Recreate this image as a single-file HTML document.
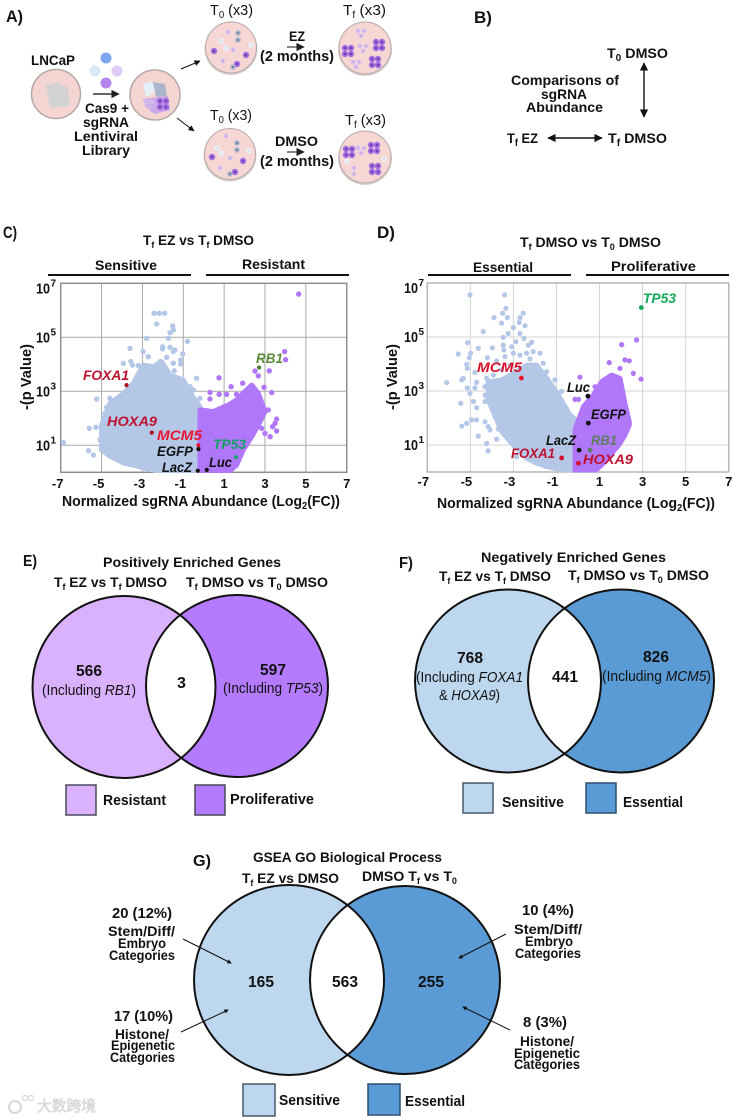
<!DOCTYPE html>
<html lang="en">
<head>
<meta charset="utf-8">
<title>CRISPR screen volcano plots and Venn diagrams</title>
<style>
html,body{margin:0;padding:0;background:#fff;}
svg{display:block;}
text{font-family:"Liberation Sans",Arial,sans-serif;font-weight:bold;fill:#111;}
.i{font-style:italic;}
</style>
</head>
<body>
<svg id="figure" xmlns="http://www.w3.org/2000/svg" width="733" height="1119" viewBox="0 0 733 1119">
<defs>
<marker id="ah" markerWidth="7" markerHeight="7" refX="5.5" refY="3" orient="auto-start-reverse"><path d="M0,0 L6,3 L0,6 Z" fill="#111"/></marker>
<marker id="ahg" markerWidth="7" markerHeight="7" refX="4" refY="3" orient="auto"><path d="M0,0 L6,3 L0,6 Z" fill="#222"/></marker>
<marker id="ahb" markerWidth="5" markerHeight="5" refX="3.6" refY="2.2" orient="auto"><path d="M0,0 L4.4,2.2 L0,4.4 Z" fill="#111"/></marker>
<g id="purple-cell"><circle r="3.2" fill="#a56ee0"/><circle r="1.2" fill="#6a3aa8"/></g>
<g id="slate-cell"><circle r="2.8" fill="#a9b6cc"/><circle r="1.1" fill="#6f7f98"/></g>
<g id="pale-cell"><circle r="2.8" fill="#eaf0f8"/><circle r="1" fill="#cfdcec"/></g>
<g id="lilac-cell"><circle r="2.5" fill="#d9c3ee"/><circle r=".9" fill="#b59ad6"/></g>
<g id="purple-cluster"><use href="#purple-cell" x="-3" y="-3"/><use href="#purple-cell" x="3" y="-3"/><use href="#purple-cell" x="-3" y="3"/><use href="#purple-cell" x="3" y="3"/></g>
<g id="lilac-cluster"><use href="#lilac-cell" x="-3" y="-2"/><use href="#lilac-cell" x="3" y="-2"/><use href="#lilac-cell" x="0" y="3"/></g>
<clipPath id="clip-e"><ellipse cx="237" cy="686" rx="91" ry="91"/></clipPath>
<clipPath id="clip-f"><ellipse cx="621" cy="681" rx="93" ry="91.5"/></clipPath>
<clipPath id="clip-g"><ellipse cx="405" cy="980" rx="95" ry="94"/></clipPath>
<clipPath id="clip-c"><rect x="60.7" y="283" width="286" height="190"/></clipPath>
<clipPath id="clip-d"><rect x="427.3" y="283" width="301.4" height="189.5"/></clipPath>
</defs>

<!-- Panel A -->
<g>
<text x="6" y="22" font-size="17" textLength="17" lengthAdjust="spacingAndGlyphs">A)</text>
<g>
<circle cx="56" cy="94" r="24.5" fill="#f5d5d2" stroke="#b5a9a8" stroke-width="1.5"/>
<path d="M46,85 L58,82 L68,88 L70,106 L50,108 Z" fill="#d3d3d3"/>
</g>
<text x="31" y="65" font-size="14" textLength="44" lengthAdjust="spacingAndGlyphs">LNCaP</text>
<g>
<circle cx="106" cy="58" r="5.5" fill="#7ba6ee"/>
<circle cx="95" cy="71" r="5.5" fill="#d8e9f8"/>
<circle cx="117" cy="71" r="5.5" fill="#e0ccf4"/>
<circle cx="106" cy="83" r="5.5" fill="#b184ee"/>
</g>
<line x1="93" y1="94" x2="117" y2="94" stroke="#333" stroke-width="1.4" marker-end="url(#ahg)"/>
<text x="85" y="113" font-size="14" textLength="44" lengthAdjust="spacingAndGlyphs">Cas9 +</text>
<text x="83" y="127" font-size="14" textLength="46" lengthAdjust="spacingAndGlyphs">sgRNA</text>
<text x="74" y="141" font-size="14" textLength="64" lengthAdjust="spacingAndGlyphs">Lentiviral</text>
<text x="82" y="155" font-size="14" textLength="48" lengthAdjust="spacingAndGlyphs">Library</text>
<g>
<circle cx="155" cy="95" r="25" fill="#f5d5d2" stroke="#b5a9a8" stroke-width="1.5"/>
<path d="M143,84 L152,81 L156,92 L146,97 Z" fill="#e6eef8"/>
<path d="M153,82 L165,84 L167,96 L156,97 Z" fill="#a9b6cc"/>
<path d="M143,99 L168,96 L170,110 L155,114 L146,108 Z" fill="#c9a8ea"/>
<use href="#purple-cluster" x="163" y="104"/>
<use href="#lilac-cluster" x="149" y="104"/>
</g>
<line x1="181" y1="69" x2="200" y2="61" stroke="#111" stroke-width="1" marker-end="url(#ah)"/>
<line x1="177" y1="118" x2="194" y2="131" stroke="#111" stroke-width="1" marker-end="url(#ah)"/>

<text x="210" y="15" font-size="15" textLength="43" lengthAdjust="spacingAndGlyphs" style="font-weight:normal">T<tspan font-size="10" dy="3">0</tspan><tspan dy="-3"> (x3)</tspan></text>
<g>
<ellipse cx="231" cy="49" rx="26.5" ry="26" fill="#d8d0cf"/>
<circle cx="231" cy="47.5" r="25.5" fill="#f6d7d4" stroke="#b5a9a8" stroke-width="1"/>
<use href="#lilac-cell" x="228" y="32"/><use href="#slate-cell" x="238" y="33"/><use href="#slate-cell" x="238" y="40"/>
<use href="#pale-cell" x="221" y="41"/><use href="#pale-cell" x="226" y="48"/><use href="#lilac-cell" x="233" y="50"/>
<use href="#pale-cell" x="251" y="45"/><use href="#purple-cell" x="214" y="51"/><use href="#purple-cell" x="246" y="55"/>
<use href="#lilac-cell" x="223" y="61"/><use href="#purple-cell" x="237" y="64"/><use href="#slate-cell" x="233" y="67"/>
</g>
<text x="343" y="15" font-size="15" textLength="43" lengthAdjust="spacingAndGlyphs" style="font-weight:normal">T<tspan font-size="10" dy="3">f</tspan><tspan dy="-3">  (x3)</tspan></text>
<g>
<ellipse cx="365" cy="49.5" rx="27" ry="26.5" fill="#d8d0cf"/>
<circle cx="365" cy="48" r="26" fill="#f6d7d4" stroke="#b5a9a8" stroke-width="1"/>
<use href="#lilac-cluster" x="361" y="33"/><use href="#lilac-cluster" x="363" y="48"/><use href="#lilac-cluster" x="356" y="64"/>
<use href="#purple-cluster" x="379" y="45"/><use href="#purple-cluster" x="348" y="51"/><use href="#purple-cluster" x="375" y="62"/>
</g>
<text x="289" y="41" font-size="14" textLength="16" lengthAdjust="spacingAndGlyphs">EZ</text>
<line x1="287" y1="47" x2="302" y2="47" stroke="#555" stroke-width="1.4" marker-end="url(#ahg)"/>
<text x="260" y="61" font-size="15" textLength="74" lengthAdjust="spacingAndGlyphs">(2 months)</text>

<text x="210" y="120" font-size="15" textLength="42" lengthAdjust="spacingAndGlyphs" style="font-weight:normal">T<tspan font-size="10" dy="3">0</tspan><tspan dy="-3"> (x3)</tspan></text>
<g>
<ellipse cx="230" cy="155.5" rx="26.5" ry="26" fill="#d8d0cf"/>
<circle cx="230" cy="154" r="25.5" fill="#f6d7d4" stroke="#b5a9a8" stroke-width="1"/>
<use href="#lilac-cell" x="226" y="136"/><use href="#slate-cell" x="237" y="143"/><use href="#slate-cell" x="237" y="150"/>
<use href="#pale-cell" x="217" y="148"/><use href="#pale-cell" x="221" y="153"/><use href="#lilac-cell" x="230" y="158"/>
<use href="#pale-cell" x="249" y="151"/><use href="#purple-cell" x="212" y="157"/><use href="#purple-cell" x="243" y="161"/>
<use href="#lilac-cell" x="220" y="168"/><use href="#purple-cell" x="235" y="172"/><use href="#slate-cell" x="230" y="174"/>
</g>
<text x="345" y="125" font-size="15" textLength="41" lengthAdjust="spacingAndGlyphs" style="font-weight:normal">T<tspan font-size="10" dy="3">f</tspan><tspan dy="-3"> (x3)</tspan></text>
<g>
<ellipse cx="365" cy="158.5" rx="27" ry="26.5" fill="#d8d0cf"/>
<circle cx="365" cy="157" r="26" fill="#f6d7d4" stroke="#b5a9a8" stroke-width="1"/>
<use href="#purple-cluster" x="349" y="152"/><use href="#lilac-cluster" x="361" y="150"/><use href="#purple-cluster" x="374" y="148"/>
<use href="#pale-cell" x="347" y="161"/><use href="#pale-cell" x="384" y="159"/><use href="#lilac-cell" x="354" y="168"/><use href="#lilac-cell" x="354" y="174"/>
<use href="#purple-cluster" x="375" y="169"/>
</g>
<text x="275" y="146" font-size="14" textLength="43" lengthAdjust="spacingAndGlyphs">DMSO</text>
<line x1="287" y1="152" x2="302" y2="152" stroke="#555" stroke-width="1.4" marker-end="url(#ahg)"/>
<text x="260" y="166" font-size="15" textLength="74" lengthAdjust="spacingAndGlyphs">(2 months)</text>
</g>

<!-- Panel B -->
<g>
<text x="474" y="23" font-size="17" textLength="18" lengthAdjust="spacingAndGlyphs">B)</text>
<text x="607" y="58" font-size="14" textLength="61" lengthAdjust="spacingAndGlyphs">T<tspan font-size="10" dy="3">0</tspan><tspan dy="-3"> DMSO</tspan></text>
<line x1="644" y1="63" x2="644" y2="117" stroke="#111" stroke-width="1.4" marker-start="url(#ah)" marker-end="url(#ah)"/>
<text x="511" y="85" font-size="14" textLength="108" lengthAdjust="spacingAndGlyphs">Comparisons of</text>
<text x="541" y="99" font-size="14" textLength="46" lengthAdjust="spacingAndGlyphs">sgRNA</text>
<text x="526" y="112" font-size="14" textLength="77" lengthAdjust="spacingAndGlyphs">Abundance</text>
<text x="507" y="143" font-size="14" textLength="31" lengthAdjust="spacingAndGlyphs">T<tspan font-size="10" dy="3">f</tspan><tspan dy="-3"> EZ</tspan></text>
<line x1="548" y1="138" x2="602" y2="138" stroke="#111" stroke-width="1.4" marker-start="url(#ah)" marker-end="url(#ah)"/>
<text x="608" y="143" font-size="14" textLength="59" lengthAdjust="spacingAndGlyphs">T<tspan font-size="10" dy="3">f</tspan><tspan dy="-3"> DMSO</tspan></text>
</g>

<!-- Panel C static text -->
<g>
<text x="3" y="238" font-size="17" textLength="14" lengthAdjust="spacingAndGlyphs">C)</text>
<text x="143" y="245" font-size="14" textLength="111" lengthAdjust="spacingAndGlyphs">T<tspan font-size="9" dy="3">f</tspan><tspan dy="-3"> EZ vs T</tspan><tspan font-size="9" dy="3">f</tspan><tspan dy="-3"> DMSO</tspan></text>
<text x="95" y="270" font-size="14" textLength="62" lengthAdjust="spacingAndGlyphs">Sensitive</text>
<text x="242" y="269" font-size="14" textLength="63" lengthAdjust="spacingAndGlyphs">Resistant</text>
<rect x="48" y="274" width="143" height="2" fill="#111"/>
<rect x="206" y="274" width="143" height="2" fill="#111"/>
<text transform="translate(31,410) rotate(-90)" font-size="15" textLength="66" lengthAdjust="spacingAndGlyphs">-(p Value)</text>
<text x="62" y="506" font-size="15" textLength="278" lengthAdjust="spacingAndGlyphs">Normalized sgRNA Abundance (Log<tspan font-size="10" dy="3">2</tspan><tspan dy="-3">(FC))</tspan></text>
</g>

<!-- Panel D static text -->
<g>
<text x="377" y="238" font-size="17" textLength="18" lengthAdjust="spacingAndGlyphs">D)</text>
<text x="520" y="247" font-size="14" textLength="141" lengthAdjust="spacingAndGlyphs">T<tspan font-size="9" dy="3">f</tspan><tspan dy="-3"> DMSO vs T</tspan><tspan font-size="9" dy="3">0</tspan><tspan dy="-3"> DMSO</tspan></text>
<text x="473" y="272" font-size="14" textLength="60" lengthAdjust="spacingAndGlyphs">Essential</text>
<text x="611" y="271" font-size="14" textLength="85" lengthAdjust="spacingAndGlyphs">Proliferative</text>
<rect x="428" y="274" width="143" height="2" fill="#111"/>
<rect x="586" y="274" width="143" height="2" fill="#111"/>
<text transform="translate(397,410) rotate(-90)" font-size="15" textLength="66" lengthAdjust="spacingAndGlyphs">-(p Value)</text>
<text x="437" y="508" font-size="15" textLength="278" lengthAdjust="spacingAndGlyphs">Normalized sgRNA Abundance (Log<tspan font-size="10" dy="3">2</tspan><tspan dy="-3">(FC))</tspan></text>
</g>

<g id="chart-c"></g>
<g id="chart-d"></g>

<!-- gene labels C -->
<g font-size="14">
<text class="i" x="83" y="380" font-size="14" textLength="46" lengthAdjust="spacingAndGlyphs" style="fill:#bf1130">FOXA1</text>
<text class="i" x="107" y="426" font-size="14" textLength="50" lengthAdjust="spacingAndGlyphs" style="fill:#bf1130">HOXA9</text>
<text class="i" x="157" y="440" font-size="14" textLength="45" lengthAdjust="spacingAndGlyphs" style="fill:#ea1530">MCM5</text>
<text class="i" x="157" y="456" font-size="14" textLength="36" lengthAdjust="spacingAndGlyphs">EGFP</text>
<text class="i" x="162" y="472" font-size="14" textLength="30" lengthAdjust="spacingAndGlyphs">LacZ</text>
<text class="i" x="209" y="467" font-size="14" textLength="23" lengthAdjust="spacingAndGlyphs">Luc</text>
<text class="i" x="213" y="449" font-size="14" textLength="33" lengthAdjust="spacingAndGlyphs" style="fill:#12a064">TP53</text>
<text class="i" x="256" y="363" font-size="14" textLength="27" lengthAdjust="spacingAndGlyphs" style="fill:#5a8a3c">RB1</text>
</g>
<!-- gene labels D -->
<g>
<text class="i" x="477" y="372" font-size="14" textLength="45" lengthAdjust="spacingAndGlyphs" style="fill:#d8102a">MCM5</text>
<text class="i" x="567" y="392" font-size="14" textLength="23" lengthAdjust="spacingAndGlyphs">Luc</text>
<text class="i" x="591" y="419" font-size="14" textLength="35" lengthAdjust="spacingAndGlyphs">EGFP</text>
<text class="i" x="546" y="445" font-size="14" textLength="30" lengthAdjust="spacingAndGlyphs">LacZ</text>
<text class="i" x="591" y="445" font-size="14" textLength="26" lengthAdjust="spacingAndGlyphs" style="fill:#5f7d60">RB1</text>
<text class="i" x="511" y="458" font-size="14" textLength="44" lengthAdjust="spacingAndGlyphs" style="fill:#bf1130">FOXA1</text>
<text class="i" x="583" y="464" font-size="14" textLength="50" lengthAdjust="spacingAndGlyphs" style="fill:#bf1130">HOXA9</text>
<text class="i" x="643" y="303" font-size="14" textLength="33" lengthAdjust="spacingAndGlyphs" style="fill:#12ab58">TP53</text>
</g>

<!-- Panel E -->
<g>
<text x="23" y="566" font-size="16" textLength="14" lengthAdjust="spacingAndGlyphs">E)</text>
<text x="103" y="567" font-size="14" textLength="178" lengthAdjust="spacingAndGlyphs">Positively Enriched Genes</text>
<text x="54" y="587" font-size="14" textLength="113" lengthAdjust="spacingAndGlyphs">T<tspan font-size="9" dy="3">f</tspan><tspan dy="-3"> EZ vs T</tspan><tspan font-size="9" dy="3">f</tspan><tspan dy="-3"> DMSO</tspan></text>
<text x="186" y="587" font-size="14" textLength="142" lengthAdjust="spacingAndGlyphs">T<tspan font-size="9" dy="3">f</tspan><tspan dy="-3"> DMSO vs T</tspan><tspan font-size="9" dy="3">0</tspan><tspan dy="-3"> DMSO</tspan></text>
<ellipse cx="124" cy="687" rx="91.5" ry="91" fill="#d9b1fd"/>
<ellipse cx="237" cy="686" rx="91" ry="91" fill="#b47bff"/>
<ellipse cx="124" cy="687" rx="91.5" ry="91" fill="#fff" clip-path="url(#clip-e)"/>
<ellipse cx="124" cy="687" rx="91.5" ry="91" fill="none" stroke="#111" stroke-width="2"/>
<ellipse cx="237" cy="686" rx="91" ry="91" fill="none" stroke="#111" stroke-width="2"/>
<text x="76" y="676" font-size="16" textLength="26" lengthAdjust="spacingAndGlyphs">566</text>
<text x="42" y="695" font-size="15" textLength="94" lengthAdjust="spacingAndGlyphs" style="font-weight:normal">(Including <tspan class="i" style="font-weight:normal">RB1</tspan>)</text>
<text x="177" y="688" font-size="16">3</text>
<text x="260" y="675" font-size="16" textLength="26" lengthAdjust="spacingAndGlyphs">597</text>
<text x="223" y="693" font-size="15" textLength="100" lengthAdjust="spacingAndGlyphs" style="font-weight:normal">(Including <tspan class="i">TP53</tspan>)</text>
<rect x="66" y="785" width="30" height="30" fill="#d9b1fd" stroke="#4a4a5a" stroke-width="1.5"/>
<text x="103" y="805" font-size="15" textLength="63" lengthAdjust="spacingAndGlyphs">Resistant</text>
<rect x="195" y="785" width="30" height="30" fill="#b47bff" stroke="#4a4a5a" stroke-width="1.5"/>
<text x="230" y="804" font-size="15" textLength="84" lengthAdjust="spacingAndGlyphs">Proliferative</text>
</g>

<!-- Panel F -->
<g>
<text x="399" y="568" font-size="16" textLength="14" lengthAdjust="spacingAndGlyphs">F)</text>
<text x="481" y="562" font-size="14" textLength="185" lengthAdjust="spacingAndGlyphs">Negatively Enriched Genes</text>
<text x="439" y="581" font-size="14" textLength="112" lengthAdjust="spacingAndGlyphs">T<tspan font-size="9" dy="3">f</tspan><tspan dy="-3"> EZ vs T</tspan><tspan font-size="9" dy="3">f</tspan><tspan dy="-3"> DMSO</tspan></text>
<text x="568" y="580" font-size="14" textLength="141" lengthAdjust="spacingAndGlyphs">T<tspan font-size="9" dy="3">f</tspan><tspan dy="-3"> DMSO vs T</tspan><tspan font-size="9" dy="3">0</tspan><tspan dy="-3"> DMSO</tspan></text>
<ellipse cx="508" cy="681" rx="93" ry="91.5" fill="#bdd7ee"/>
<ellipse cx="621" cy="681" rx="93" ry="91.5" fill="#5b9bd5"/>
<ellipse cx="508" cy="681" rx="93" ry="91.5" fill="#fff" clip-path="url(#clip-f)"/>
<ellipse cx="508" cy="681" rx="93" ry="91.5" fill="none" stroke="#111" stroke-width="2"/>
<ellipse cx="621" cy="681" rx="93" ry="91.5" fill="none" stroke="#111" stroke-width="2"/>
<text x="457" y="663" font-size="16" textLength="26" lengthAdjust="spacingAndGlyphs">768</text>
<text x="416" y="682" font-size="15" textLength="107" lengthAdjust="spacingAndGlyphs" style="font-weight:normal">(Including <tspan class="i">FOXA1</tspan></text>
<text x="439" y="700" font-size="15" textLength="61" lengthAdjust="spacingAndGlyphs" style="font-weight:normal">&amp; <tspan class="i">HOXA9</tspan>)</text>
<text x="552" y="682" font-size="16" textLength="26" lengthAdjust="spacingAndGlyphs">441</text>
<text x="643" y="662" font-size="16" textLength="26" lengthAdjust="spacingAndGlyphs">826</text>
<text x="602" y="681" font-size="15" textLength="109" lengthAdjust="spacingAndGlyphs" style="font-weight:normal">(Including <tspan class="i">MCM5</tspan>)</text>
<rect x="463" y="783" width="30" height="30" fill="#bdd7ee" stroke="#48586a" stroke-width="1.5"/>
<text x="502" y="807" font-size="15" textLength="62" lengthAdjust="spacingAndGlyphs">Sensitive</text>
<rect x="586" y="783" width="30" height="30" fill="#5b9bd5" stroke="#2d4f70" stroke-width="1.5"/>
<text x="623" y="807" font-size="15" textLength="60" lengthAdjust="spacingAndGlyphs">Essential</text>
</g>

<!-- Panel G -->
<g>
<text x="193" y="866" font-size="16" textLength="18" lengthAdjust="spacingAndGlyphs">G)</text>
<text x="253" y="862" font-size="14" textLength="189" lengthAdjust="spacingAndGlyphs">GSEA GO Biological Process</text>
<text x="242" y="883" font-size="14" textLength="97" lengthAdjust="spacingAndGlyphs">T<tspan font-size="9" dy="3">f</tspan><tspan dy="-3"> EZ vs DMSO</tspan></text>
<text x="362" y="881" font-size="14" textLength="95" lengthAdjust="spacingAndGlyphs">DMSO T<tspan font-size="9" dy="3">f</tspan><tspan dy="-3"> vs T</tspan><tspan font-size="9" dy="3">0</tspan></text>
<ellipse cx="289" cy="980" rx="95" ry="95" fill="#bdd7ee"/>
<ellipse cx="405" cy="980" rx="95" ry="94" fill="#5b9bd5"/>
<ellipse cx="289" cy="980" rx="95" ry="95" fill="#fff" clip-path="url(#clip-g)"/>
<ellipse cx="289" cy="980" rx="95" ry="95" fill="none" stroke="#111" stroke-width="2"/>
<ellipse cx="405" cy="980" rx="95" ry="94" fill="none" stroke="#111" stroke-width="2"/>
<text x="248" y="987" font-size="16" textLength="26" lengthAdjust="spacingAndGlyphs">165</text>
<text x="332" y="987" font-size="16" textLength="26" lengthAdjust="spacingAndGlyphs">563</text>
<text x="418" y="987" font-size="16" textLength="26" lengthAdjust="spacingAndGlyphs">255</text>
<text x="112" y="918" font-size="15" textLength="60" lengthAdjust="spacingAndGlyphs">20 (12%)</text>
<text x="108" y="936" font-size="14" textLength="67" lengthAdjust="spacingAndGlyphs">Stem/Diff/</text>
<text x="118" y="948" font-size="14" textLength="48" lengthAdjust="spacingAndGlyphs">Embryo</text>
<text x="109" y="960" font-size="14" textLength="66" lengthAdjust="spacingAndGlyphs">Categories</text>
<text x="114" y="1021" font-size="15" textLength="59" lengthAdjust="spacingAndGlyphs">17 (10%)</text>
<text x="115" y="1039" font-size="14" textLength="54" lengthAdjust="spacingAndGlyphs">Histone/</text>
<text x="111" y="1050" font-size="14" textLength="64" lengthAdjust="spacingAndGlyphs">Epigenetic</text>
<text x="110" y="1062" font-size="14" textLength="65" lengthAdjust="spacingAndGlyphs">Categories</text>
<text x="522" y="915" font-size="15" textLength="52" lengthAdjust="spacingAndGlyphs">10 (4%)</text>
<text x="514" y="934" font-size="14" textLength="68" lengthAdjust="spacingAndGlyphs">Stem/Diff/</text>
<text x="525" y="946" font-size="14" textLength="48" lengthAdjust="spacingAndGlyphs">Embryo</text>
<text x="515" y="958" font-size="14" textLength="66" lengthAdjust="spacingAndGlyphs">Categories</text>
<text x="523" y="1027" font-size="15" textLength="44" lengthAdjust="spacingAndGlyphs">8 (3%)</text>
<text x="520" y="1046" font-size="14" textLength="54" lengthAdjust="spacingAndGlyphs">Histone/</text>
<text x="514" y="1058" font-size="14" textLength="66" lengthAdjust="spacingAndGlyphs">Epigenetic</text>
<text x="514" y="1069" font-size="14" textLength="66" lengthAdjust="spacingAndGlyphs">Categories</text>
<line x1="183" y1="939" x2="231" y2="963" stroke="#111" stroke-width="1" marker-end="url(#ahb)"/>
<line x1="181" y1="1032" x2="228" y2="1010" stroke="#111" stroke-width="1" marker-end="url(#ahb)"/>
<line x1="506" y1="934" x2="459" y2="958" stroke="#111" stroke-width="1" marker-end="url(#ahb)"/>
<line x1="510" y1="1030" x2="463" y2="1007" stroke="#111" stroke-width="1" marker-end="url(#ahb)"/>
<rect x="243" y="1084" width="32" height="32" fill="#bdd7ee" stroke="#48586a" stroke-width="1.5"/>
<text x="279" y="1105" font-size="15" textLength="61" lengthAdjust="spacingAndGlyphs">Sensitive</text>
<rect x="368" y="1084" width="32" height="31" fill="#5b9bd5" stroke="#2d4f70" stroke-width="1.5"/>
<text x="405" y="1106" font-size="15" textLength="60" lengthAdjust="spacingAndGlyphs">Essential</text>
</g>

<!-- Watermark -->
<g>
<circle cx="15" cy="1107" r="6" fill="none" stroke="#d8d8d8" stroke-width="2"/>
<circle cx="25" cy="1098" r="2.5" fill="none" stroke="#d8d8d8" stroke-width="1.2"/>
<circle cx="31" cy="1098" r="2.5" fill="none" stroke="#d8d8d8" stroke-width="1.2"/>
<text x="37" y="1111" font-size="15" textLength="59" lengthAdjust="spacingAndGlyphs" style="font-family:'Liberation Sans','Noto Sans CJK SC',sans-serif;fill:#e4e4e4;stroke:#cfcfcf;stroke-width:.5;font-weight:normal">大数跨境</text>
</g>
</svg>

<script>
// ---- shared ticks ----
const xTickValues = [-7, -5, -3, -1, 1, 3, 5, 7];
const yTickExponents = [1, 3, 5, 7];

// ---- Panel C: dense core (log2FC bins with upper/lower -log10 p) ----
const cSensitiveCoreX = [-5.0, -4.59, -3.93, -3.44, -2.96, -2.47, -2.06, -1.65, -1.0, -0.59, -0.18, 0.06];
const cSensitiveCoreUpper = [1.75, 2.55, 2.92, 3.3, 3.97, 3.91, 4.1, 3.6, 3.42, 2.86, 2.43, 2.06];
const cSensitiveCoreLower = [0.83, 0.6, 0.35, 0.27, 0.16, 0.09, 0.01, 0.0, 0.0, 0.0, 0.0, 0.0];
const cResistantCoreX = [-0.18, 0.47, 1.2, 1.61, 1.94, 2.35, 2.67, 3.0];
const cResistantCoreUpper = [2.31, 2.25, 2.49, 2.68, 2.93, 3.23, 2.93, 2.25];
const cResistantCoreLower = [0.0, 0.0, 0.0, 0.27, 0.83, 1.32, 1.75, 2.25];
// ---- Panel C: individual sgRNAs outside the core ----
const cSensitiveX = [-2.43,-2.17,-1.91,-2.3,-1.52,-1.49,-1.65,-2.79,-1.73,-0.8,-3.61,-2.01,-2.01,-1.65,-1.49,-1.41,-1.03,-2.96,-2.71,-1.81,-1.49,-1.13,-1.13,-2.14,-3.93,-3.57,-3.49,-0.35,-5.24,-4.59,-4.59,-4.75,-0.18,-1.44,-3.2,-4.83,-5.6,-5.27,-4.99,-5.64,-5.4,-6.87,-5.07,-4.91,-4.75,-0.67,-0.5];
const cSensitiveY = [5.89,5.89,5.89,5.49,5.42,5.27,5.17,4.96,4.96,4.85,4.59,4.65,4.57,4.63,4.47,4.53,4.38,4.47,4.28,4.26,4.04,4.16,4.01,4.1,4.03,4.1,3.97,3.48,2.71,2.74,2.55,2.4,2.74,3.76,3.95,2.18,1.63,1.67,1.63,0.8,0.64,1.1,1.2,1.44,1.69,3.17,3.05];
const cResistantX = [4.65,3.96,4.01,0.75,2.51,2.67,3.21,1.34,1.91,2.95,0.31,0.76,1.12,1.61,3.33,0.31,3.57,2.84,3.37,3.57,3.25,3.0,3.16,3.49];
const cResistantY = [6.6,4.47,4.17,3.5,3.75,3.57,3.76,3.17,3.3,3.15,2.96,2.89,2.89,2.89,2.95,2.72,1.97,1.63,1.69,1.53,1.32,1.44,2.31,1.81];
const cGeneNames = ['foxa1','hoxa9','mcm5','egfp','lacz','luc','tp53','rb1'];
const cGeneX = [-3.78,-2.54,-0.26,-0.26,-0.29,0.15,1.58,2.71];
const cGeneY = [3.23,1.47,1.0,0.86,0.06,0.09,0.56,3.88];

// ---- Panel D: dense core ----
const dEssentialCoreX = [-4.17,-3.54,-3.01,-2.38,-1.92,-1.45,-0.91,-0.37,0.01];
const dEssentialCoreUpper = [3.34,3.41,3.65,3.96,3.96,3.47,2.85,2.11,1.87];
const dEssentialCoreLower = [2.67,1.49,1.0,0.51,0.33,0.2,0.11,0.04,0.0];
const dProliferativeCoreX = [-0.14,0.25,0.71,1.1,1.56,1.95,2.18,2.38];
const dProliferativeCoreUpper = [1.56,2.42,2.85,3.35,3.59,3.47,2.54,1.86];
const dProliferativeCoreLower = [0.0,0.0,0.0,0.26,0.69,1.06,1.37,1.74];
// ---- Panel D: individual sgRNAs outside the core ----
const dEssentialX = [-5.02,-3.41,-3.35,-3.5,-3.9,-3.28,-2.7,-2.54,-2.73,-3.55,-3.0,-2.46,-4.4,-3.24,-2.7,-3.47,-2.51,-2.88,-2.15,-2.31,-5.13,-4.63,-3.98,-3.47,-3.44,-3.08,-5.56,-4.99,-5.05,-4.21,-3.78,-3.39,-3.0,-2.7,-2.39,-2.08,-1.77,-2.23,-5.17,-5.14,-4.79,-6.1,-5.4,-5.33,-5.14,-4.71,-5.02,-4.79,-4.32,-5.45,-4.86,-4.71,-4.32,-3.93,-4.94,-5.17,-5.4,-4.71,-4.32,-4.17,-4.09,-4.63,-3.7,-4.24,-4.17,-3.78,-3.32,-2.85,-1.38,-1.07,-0.76,-0.68,-3.93,-3.7,-3.86,-3.62,-4.32,-4.09,-3.78,-1.61,-1.46,-3.16,-3.55,-3.93,-4.24];
const dEssentialY = [6.56,6.56,6.06,5.88,5.72,5.72,5.72,5.88,5.54,5.51,5.35,5.42,5.2,5.13,5.13,4.99,4.95,4.83,4.8,4.7,4.79,4.58,4.6,4.7,4.52,4.64,4.37,4.4,4.23,4.23,4.11,4.27,4.4,4.33,4.4,4.46,4.4,4.19,3.99,3.84,3.69,3.31,3.41,3.47,3.12,3.32,2.91,3.12,3.16,2.54,2.61,2.38,2.61,2.3,1.93,1.8,1.7,1.93,1.86,1.68,1.56,1.33,1.59,1.06,0.78,1.22,1.49,0.57,3.35,3.41,2.98,2.36,2.73,2.54,2.05,1.86,2.85,3.04,3.1,4.03,3.72,3.96,3.78,3.59,3.47];
const dProliferativeX = [2.03,2.72,1.45,2.18,2.38,1.95,2.57,2.93,0.09,0.79,-0.14,0.02,2.29,2.34];
const dProliferativeY = [4.72,4.89,4.05,4.15,4.12,3.84,3.65,3.44,3.51,3.16,2.69,2.69,2.11,1.74];
const dGeneNames = ['mcm5','luc','egfp','lacz','rb1','foxa1','hoxa9','tp53'];
const dGeneX = [-2.63,0.46,0.48,0.05,0.56,-0.76,0.02,2.94];
const dGeneY = [3.48,2.81,1.81,0.81,0.81,0.52,0.32,6.09];

const SVGNS = 'http://www.w3.org/2000/svg';
const BLUE = '#b4c7e7', PURPLE = '#b077fa';

function mk(parent, tag, attrs) {
  const el = document.createElementNS(SVGNS, tag);
  for (const k in attrs) el.setAttribute(k, attrs[k]);
  parent.appendChild(el);
  return el;
}

function corePath(xs, up, low, sx, sy) {
  let d = '';
  xs.forEach((v, i) => { d += (i ? 'L' : 'M') + sx(v).toFixed(1) + ',' + sy(up[i]).toFixed(1); });
  for (let i = xs.length - 1; i >= 0; i--) d += 'L' + sx(xs[i]).toFixed(1) + ',' + sy(low[i]).toFixed(1);
  return d + 'Z';
}

function drawDots(g, xs, ys, sx, sy, color, r, label) {
  xs.forEach((v, i) => {
    const c = mk(g, 'circle', {cx: sx(v).toFixed(1), cy: sy(ys[i]).toFixed(1), r: r, fill: color});
    
    
  });
}

function drawFrame(g, sx, sy, opt) {
  const x0 = sx(-7), x1 = sx(7), y0 = sy(0), y1 = sy(7);
  xTickValues.forEach(v => {
    if (v === -7 || v === 7) return;
    const l = mk(g, 'line', {x1: sx(v), x2: sx(v), y1: y0, y2: y1, stroke: opt.grid, 'stroke-width': 1});
    
    
  });
  yTickExponents.forEach(v => {
    if (v === 7) return;
    const l = mk(g, 'line', {x1: x0, x2: x1, y1: sy(v), y2: sy(v), stroke: opt.grid, 'stroke-width': 1});
    
    
  });
  const f = mk(g, 'rect', {x: x0, y: y1, width: x1 - x0, height: y0 - y1, fill: 'none', stroke: opt.frame, 'stroke-width': 1.5});
  
  
}

function drawTicks(g, sx, sy, opt) {
  xTickValues.forEach(v => {
    const t = mk(g, 'text', {x: sx(v) + opt.xShift(v), y: opt.xBase, 'font-size': 13, 'text-anchor': 'middle'});
    t.textContent = String(v);
    
    
  });
  yTickExponents.forEach(v => {
    const t = mk(g, 'text', {x: opt.yLeft, y: sy(v) + (v === 7 ? 10 : 5), 'font-size': 15, textLength: 14, lengthAdjust: 'spacingAndGlyphs'});
    t.textContent = '10';
    
    
    const s = mk(g, 'text', {x: opt.yLeft + 14.5, y: sy(v) + (v === 7 ? 3 : -2), 'font-size': 10});
    s.textContent = String(v);
    
    
  });
}

// ---- Panel C ----
const xC = v => 60.7 + (v + 7) * 20.43;
const yC = v => 472.3 - v * 27;
const gC = document.getElementById('chart-c');
drawFrame(gC, xC, yC, {grid: '#a9a9a9', frame: '#8f8f8f'});
const cMarks = mk(gC, 'g', {'clip-path': 'url(#clip-c)'});


const cBlue = mk(cMarks, 'path', {d: corePath(cSensitiveCoreX, cSensitiveCoreUpper, cSensitiveCoreLower, xC, yC), fill: BLUE, stroke: BLUE, 'stroke-width': 5, 'stroke-linejoin': 'round'});


drawDots(cMarks, cSensitiveX, cSensitiveY, xC, yC, BLUE, 2.7, 'sensitive-sgrna-point');
const cPurple = mk(cMarks, 'path', {d: corePath(cResistantCoreX, cResistantCoreUpper, cResistantCoreLower, xC, yC), fill: PURPLE, stroke: PURPLE, 'stroke-width': 5, 'stroke-linejoin': 'round'});


drawDots(cMarks, cResistantX, cResistantY, xC, yC, PURPLE, 2.7, 'resistant-sgrna-point');
const cGeneColors = {foxa1:'#b01020', hoxa9:'#b01020', mcm5:'#e8132c', egfp:'#111', lacz:'#111', luc:'#111', tp53:'#14a868', rb1:'#4a7a32'};
cGeneNames.forEach((n, i) => {
  const c = mk(cMarks, 'circle', {cx: xC(cGeneX[i]), cy: yC(cGeneY[i]), r: 2.1, fill: cGeneColors[n]});
  
  
});
drawTicks(gC, xC, yC, {xBase: 488, yLeft: 36, xShift: v => (v < 0 ? -3 : 0)});

// ---- Panel D ----
const xD = v => 427.3 + (v + 7) * 21.53;
const yD = v => 472 - v * 27;
const gD = document.getElementById('chart-d');
drawFrame(gD, xD, yD, {grid: '#d4d4d4', frame: '#b5b5b5'});
const dMarks = mk(gD, 'g', {'clip-path': 'url(#clip-d)'});


const dBlue = mk(dMarks, 'path', {d: corePath(dEssentialCoreX, dEssentialCoreUpper, dEssentialCoreLower, xD, yD), fill: BLUE, stroke: BLUE, 'stroke-width': 5, 'stroke-linejoin': 'round'});


drawDots(dMarks, dEssentialX, dEssentialY, xD, yD, BLUE, 2.6, 'essential-sgrna-point');
const dPurple = mk(dMarks, 'path', {d: corePath(dProliferativeCoreX, dProliferativeCoreUpper, dProliferativeCoreLower, xD, yD), fill: PURPLE, stroke: PURPLE, 'stroke-width': 5, 'stroke-linejoin': 'round'});


drawDots(dMarks, dProliferativeX, dProliferativeY, xD, yD, PURPLE, 2.6, 'proliferative-sgrna-point');
const dGeneColors = {mcm5:'#e8132c', luc:'#111', egfp:'#111', lacz:'#111', rb1:'#5f7d60', foxa1:'#d01030', hoxa9:'#d01030', tp53:'#12ab58'};
dGeneNames.forEach((n, i) => {
  const c = mk(dMarks, 'circle', {cx: xD(dGeneX[i]), cy: yD(dGeneY[i]), r: 2.4, fill: dGeneColors[n]});
  
  
});
drawTicks(gD, xD, yD, {xBase: 486, yLeft: 404, xShift: v => (v < 0 ? -4 : 0)});
</script>
</body>
</html>
